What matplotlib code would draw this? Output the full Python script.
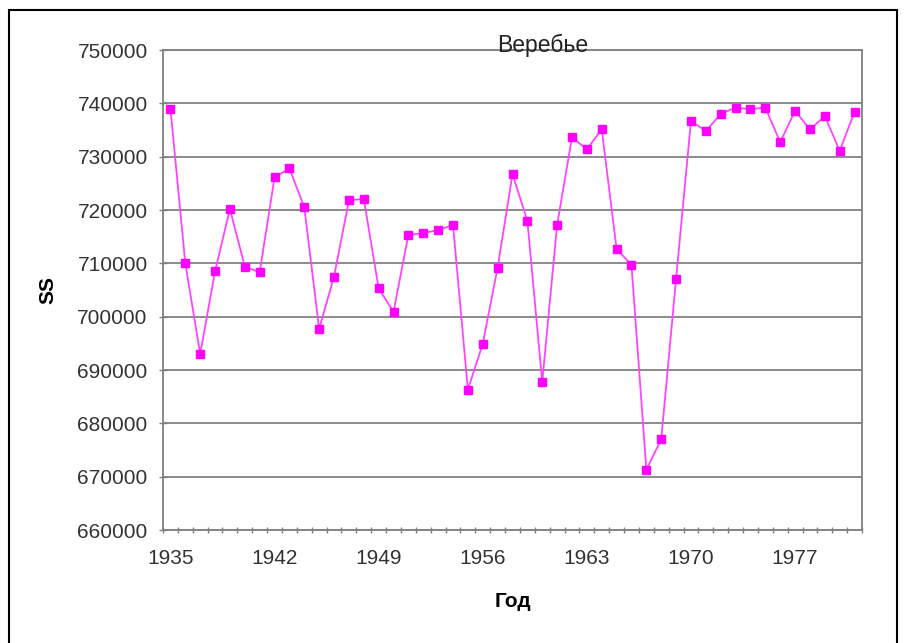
import numpy as np
import matplotlib
matplotlib.use("Agg")
from matplotlib import pyplot as plt
from matplotlib.patches import Rectangle

plt.rcParams["font.family"] = ["Liberation Sans", "DejaVu Sans"]

years = list(range(1935, 1982))
ss = [739000, 710000, 693000, 708500, 720200, 709400, 708300, 726100, 727800, 720500,
      697700, 707500, 721800, 722100, 705300, 700900, 715300, 715700, 716200, 717200,
      686300, 694900, 709200, 726700, 718000, 687700, 717200, 733600, 731400, 735100,
      712700, 709700, 671300, 677000, 707100, 736700, 734800, 738000, 739200, 738900,
      739200, 732700, 738600, 735100, 737600, 731100, 738400]
year_labels = [1935, 1942, 1949, 1956, 1963, 1970, 1977]
y_ticks = list(range(660000, 750001, 10000))

fig = plt.figure(figsize=(9.06, 6.43), dpi=100)
ax = fig.add_axes([163/906, 1-530/643, (862-163)/906, (530-50)/643])

x = np.arange(len(years))
ax.plot(x, ss, "-", color="#ff44ff", linewidth=1.3, marker="s", markersize=5.8,
        markerfacecolor="#ff00ff", markeredgecolor="#ff00ff", zorder=3)

ax.set_xlim(-0.5, len(years) - 0.5)
ax.set_ylim(660000, 750000)

# category axis: labels in the middle of a category, ticks on the boundaries
ax.set_xticks([years.index(y) for y in year_labels])
ax.set_xticklabels([str(y) for y in year_labels], fontsize=15, color="#333333")
ax.set_xticks(np.arange(-0.5, len(years)), minor=True)
ax.tick_params(axis="x", which="major", length=0, pad=14)
ax.tick_params(axis="x", which="minor", length=5, width=1, color="#808080", direction="inout")

ax.set_yticks(y_ticks)
ax.set_yticklabels([str(v) for v in y_ticks], fontsize=15, color="#333333")
ax.tick_params(axis="y", length=6, width=1, color="#808080", direction="inout", pad=8)

ax.grid(axis="y", color="#8a8a8a", linewidth=1.4)
ax.set_axisbelow(True)
for s in ax.spines.values():
    s.set_color("#808080")
    s.set_linewidth(1.3)

ax.set_xlabel("Год", fontsize=15, fontweight="bold", labelpad=17)
ax.set_ylabel("SS", fontsize=15, fontweight="bold", labelpad=14)
fig.text(543/906, 1-45/643, "Веребье", fontsize=16.5, ha="center", va="center", color="#222222")

# outer frame
fig.patches.append(Rectangle((9/906, -0.05), (897-9)/906, 1.05-10/643,
                             transform=fig.transFigure, fill=False,
                             edgecolor="black", linewidth=1.5))

fig.savefig("out.png", dpi=100)
